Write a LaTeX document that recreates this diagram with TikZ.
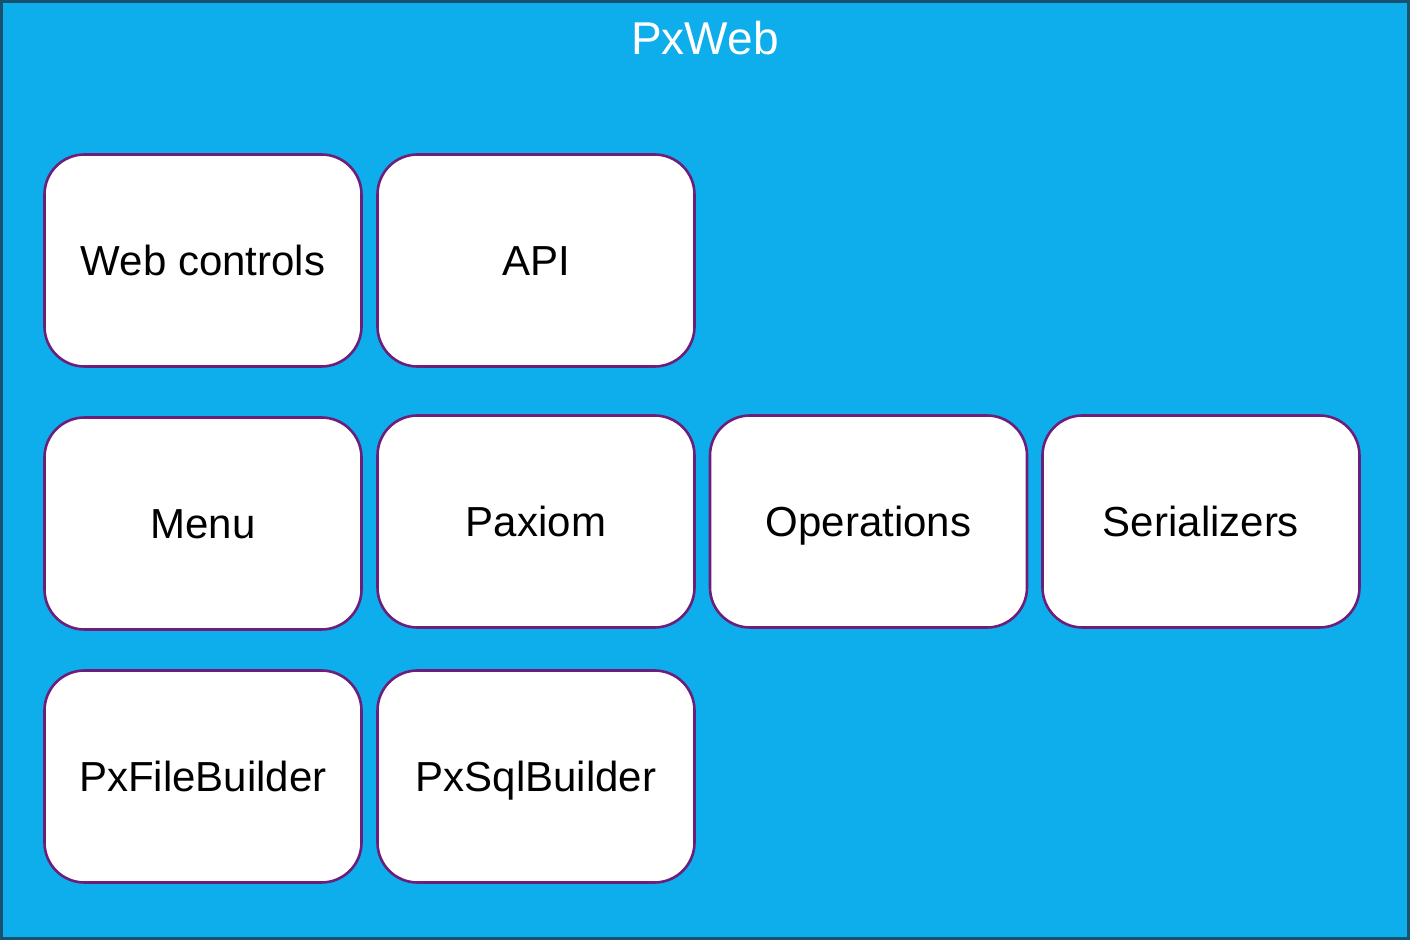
\documentclass[tikz,border=0pt]{standalone}
\usepackage{fontspec}
\setmainfont{Liberation Sans}
\definecolor{pxblue}{RGB}{13,174,235}
\definecolor{pxframe}{RGB}{22,82,110}
\definecolor{pxpurple}{RGB}{108,30,122}

\begin{document}
\begin{tikzpicture}[x=0.5pt,y=-0.5pt]
	\tikzstyle{module} = [rectangle, rounded corners=20pt, draw=pxpurple, line width=1.3pt, fill=white, minimum width=158.5pt, minimum height=106pt, text height=15pt, text depth=0pt, font=\fontsize{21}{25}\selectfont]
	\tikzstyle{title} = [text=white, font=\fontsize{23}{27}\selectfont]

	\useasboundingbox (0,0) rectangle (1410,940);
%----------Frame------------------------------
	\node[draw=pxframe, line width=1.5pt, fill=pxblue, minimum width=703.5pt, minimum height=468.5pt, inner sep=0pt] (pxweb) at (705,470) {};
	\node[title] (pxwebtitle) at (705,38) {PxWeb};

%----------First row--------------------------
	\node[module] (webcontrols) at (203,260.5) {Web controls};
	\node[module] (api) at (536,260.5) {API};

%----------Second row-------------------------
	\node[module] (menu) at (203,523.5) {Menu};
	\node[module] (paxiom) at (536,521.5) {Paxiom};
	\node[module] (operations) at (868.5,521.5) {Operations};
	\node[module] (serializers) at (1201,521.5) {Serializers};

%----------Third row--------------------------
	\node[module] (pxfilebuilder) at (203,776.5) {PxFileBuilder};
	\node[module] (pxsqlbuilder) at (536,776.5) {PxSqlBuilder};
\end{tikzpicture}
\end{document}
